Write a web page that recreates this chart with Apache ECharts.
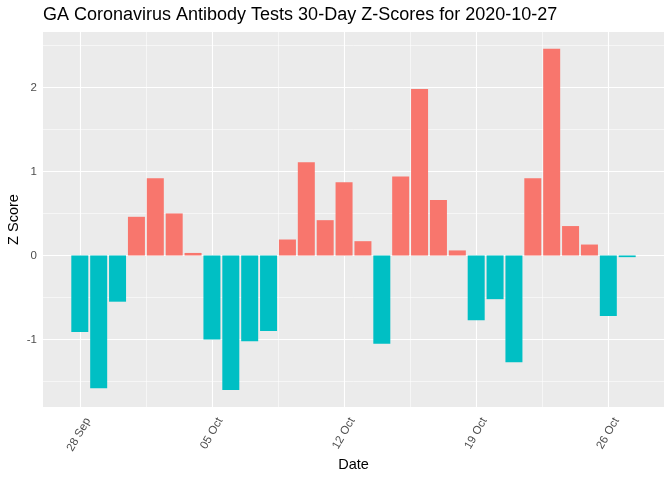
<!DOCTYPE html>
<html>
<head>
<meta charset="utf-8">
<script src="https://cdn.jsdelivr.net/npm/echarts@6/dist/echarts.min.js"></script>
<style>html,body{margin:0;padding:0;background:#fff;}#c{width:672px;height:480px;}</style>
</head>
<body>
<div id="c"></div>
<script>
const dates = ['2020-09-28','2020-09-29','2020-09-30','2020-10-01','2020-10-02','2020-10-03','2020-10-04',
  '2020-10-05','2020-10-06','2020-10-07','2020-10-08','2020-10-09','2020-10-10','2020-10-11',
  '2020-10-12','2020-10-13','2020-10-14','2020-10-15','2020-10-16','2020-10-17','2020-10-18',
  '2020-10-19','2020-10-20','2020-10-21','2020-10-22','2020-10-23','2020-10-24','2020-10-25',
  '2020-10-26','2020-10-27'];
const zScores = [-0.91,-1.58,-0.55,0.46,0.92,0.50,0.03,
  -1.00,-1.60,-1.02,-0.90,0.19,1.11,0.42,
  0.87,0.17,-1.05,0.94,1.98,0.66,0.06,
  -0.77,-0.52,-1.27,0.92,2.46,0.35,0.13,
  -0.72,-0.02];
const xTickIdx = [0,7,14,21,28];
const xTickLabels = ['28 Sep','05 Oct','12 Oct','19 Oct','26 Oct'];
const xMinorIdx = [3.5,10.5,17.5,24.5];
const yTicks = [-1,0,1,2];
const yMinor = [-1.5,-0.5,0.5,1.5,2.5];

const FONT = '"Liberation Sans", Arial, sans-serif';
const chart = echarts.init(document.getElementById('c'), null, {renderer:'canvas'});

const gridLine = (w) => ({ color:'#ffffff', width:w, type:'solid' });
const markData = [];
xTickIdx.forEach(v => markData.push({xAxis:v, lineStyle:gridLine(1.1)}));
xMinorIdx.forEach(v => markData.push({xAxis:v, lineStyle:gridLine(0.55)}));
yTicks.forEach(v => markData.push({yAxis:v, lineStyle:gridLine(1.1)}));
yMinor.forEach(v => markData.push({yAxis:v, lineStyle:gridLine(0.55)}));

const barData = zScores.map((v,i) => ({
  value:[i, v],
  itemStyle:{color: v >= 0 ? '#F8766D' : '#00BFC4'}
}));

chart.setOption({
  animation:false,
  backgroundColor:'#ffffff',
  title:{
    text:'GA Coronavirus Antibody Tests 30-Day Z-Scores for 2020-10-27',
    left:43, top:6, padding:0,
    textStyle:{fontFamily:FONT, fontSize:18, fontWeight:'normal', color:'#000000'}
  },
  grid:{left:43, right:8, top:32, bottom:73, show:true, backgroundColor:'#EBEBEB', borderWidth:0,
        containLabel:false, outerBoundsMode:'none'},
  xAxis:{
    type:'value', min:-1.95, max:30.95,
    name:'Date', nameLocation:'middle', nameGap:50, nameMoveOverlap:false,
    nameTextStyle:{fontFamily:FONT, fontSize:14.5, color:'#000000'},
    axisLine:{show:false},
    axisTick:{show:true, length:3, lineStyle:{color:'#333333', width:1}, customValues:xTickIdx},
    axisLabel:{
      customValues:xTickIdx, rotate:60, margin:7, verticalAlign:'top', lineHeight:19,
      fontFamily:FONT, fontSize:11.5, color:'#4D4D4D',
      formatter:(v) => { const k = xTickIdx.indexOf(Math.round(v)); return k>=0 ? xTickLabels[k] : ''; }
    },
    splitLine:{show:false}
  },
  yAxis:{
    type:'value', min:-1.803, max:2.659,
    name:'Z Score', nameLocation:'middle', nameGap:22, nameRotate:90, nameMoveOverlap:false,
    nameTextStyle:{fontFamily:FONT, fontSize:14.5, color:'#000000'},
    axisLine:{show:false},
    axisTick:{show:true, length:3, lineStyle:{color:'#333333', width:1}, customValues:yTicks},
    axisLabel:{customValues:yTicks, margin:6, fontFamily:FONT, fontSize:11.5, color:'#4D4D4D'},
    splitLine:{show:false}
  },
  series:[
    {
      type:'line', data:[], z:1, silent:true, symbol:'none',
      markLine:{silent:true, symbol:['none','none'], label:{show:false}, animation:false, data:markData}
    },
    {
      type:'bar', data:barData, barWidth:17, z:5
    }
  ]
});
</script>
</body>
</html>
